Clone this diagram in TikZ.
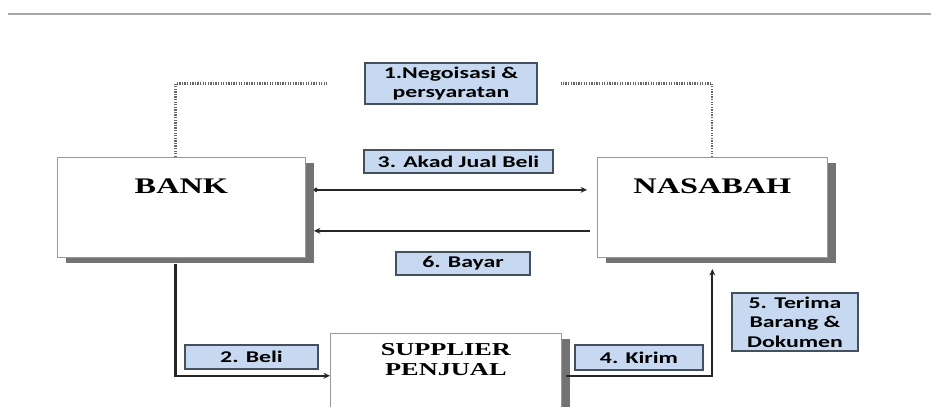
\documentclass[tikz,border=0pt]{standalone}
\usepackage{fontspec}
\newfontfamily\boxfont[FakeStretch=1.45]{Liberation Serif}
\newfontfamily\tagfont[FakeStretch=1.45]{Carlito}
\usetikzlibrary{shadows,arrows.meta}
\definecolor{tagblue}{HTML}{C6D9F1}
\definecolor{tagline}{HTML}{44505E}
\begin{document}
\begin{tikzpicture}[x=0.03cm,y=-0.03cm,
  party/.style={draw=black!40,line width=0.6pt,fill=white,anchor=north west,inner sep=0pt,
    drop shadow={shadow xshift=7pt,shadow yshift=-5pt,fill=black!55,opacity=1}},
  tag/.style={draw=tagline,line width=1.5pt,fill=tagblue,inner sep=0pt,align=center,
    font=\tagfont\bfseries\fontsize{14}{16.5}\selectfont},
  flow/.style={draw=black!85,line width=1.8pt,-{Stealth[length=5.5pt,width=5pt]}},
  dotline/.style={draw=black!60,line width=1.8pt,dash pattern=on 1.1pt off 1.1pt}]
  \useasboundingbox (0,0) rectangle (931,406);
  \draw[black!35,line width=1.6pt] (8,14) -- (931,14);
  % parties
  \node[party,minimum width=7.44cm,text height=30.5pt,text depth=55pt,
    font=\boxfont\bfseries\fontsize{19}{22}\selectfont] (bank) at (57,157) {BANK};
  \node[party,minimum width=6.9cm,text height=30.5pt,text depth=55pt,
    font=\boxfont\bfseries\fontsize{19}{22}\selectfont] (nasabah) at (597,157) {NASABAH};
  \node[party,minimum width=6.93cm,inner ysep=8.5pt,align=center,text depth=80pt,
    font=\boxfont\bfseries\fontsize{15.5}{17}\selectfont] (supplier) at (330,333) {SUPPLIER\\PENJUAL};
  % steps
  \node[tag,minimum width=5.16cm,minimum height=1.23cm] (nego) at (451,83.5) {1.Negoisasi \&\\persyaratan};
  \node[tag,minimum width=5.67cm,minimum height=0.69cm] (akad) at (458.5,161.5) {3. Akad Jual Beli};
  \node[tag,minimum width=4.02cm,minimum height=0.69cm] (bayar) at (463,263.5) {6. Bayar};
  \node[tag,minimum width=3.99cm,minimum height=0.72cm] (beli) at (251.5,357) {2. Beli};
  \node[tag,minimum width=3.84cm,minimum height=0.75cm] (kirim) at (639,357.5) {4. Kirim};
  \node[tag,minimum width=3.78cm,minimum height=1.74cm] (terima) at (795,322) {5. Terima\\Barang \&\\Dokumen};
  % connectors
  \draw[dotline,shorten >=32pt] ([xshift=-5pt]bank.north) |- (nego.west);
  \draw[dotline,shorten >=20pt] (nasabah.north) |- (nego.east);
  \draw[flow,{Circle[length=3.5pt]}-{Stealth[length=5.5pt,width=5pt]}]
    ([xshift=7pt,yshift=15pt]bank.east) -- ([xshift=-8.5pt,yshift=15pt]nasabah.west);
  \draw[flow] ([xshift=-6pt,yshift=-20pt]nasabah.west) -- ([xshift=7pt,yshift=-20pt]bank.east);
  \draw[flow] ([xshift=-5pt,yshift=-5pt]bank.south) |- ([yshift=-36.5pt]supplier.north west);
  \draw[flow] ([xshift=4pt,yshift=-36.5pt]supplier.north east) -| ([yshift=-9.5pt]nasabah.south);
\end{tikzpicture}
\end{document}
